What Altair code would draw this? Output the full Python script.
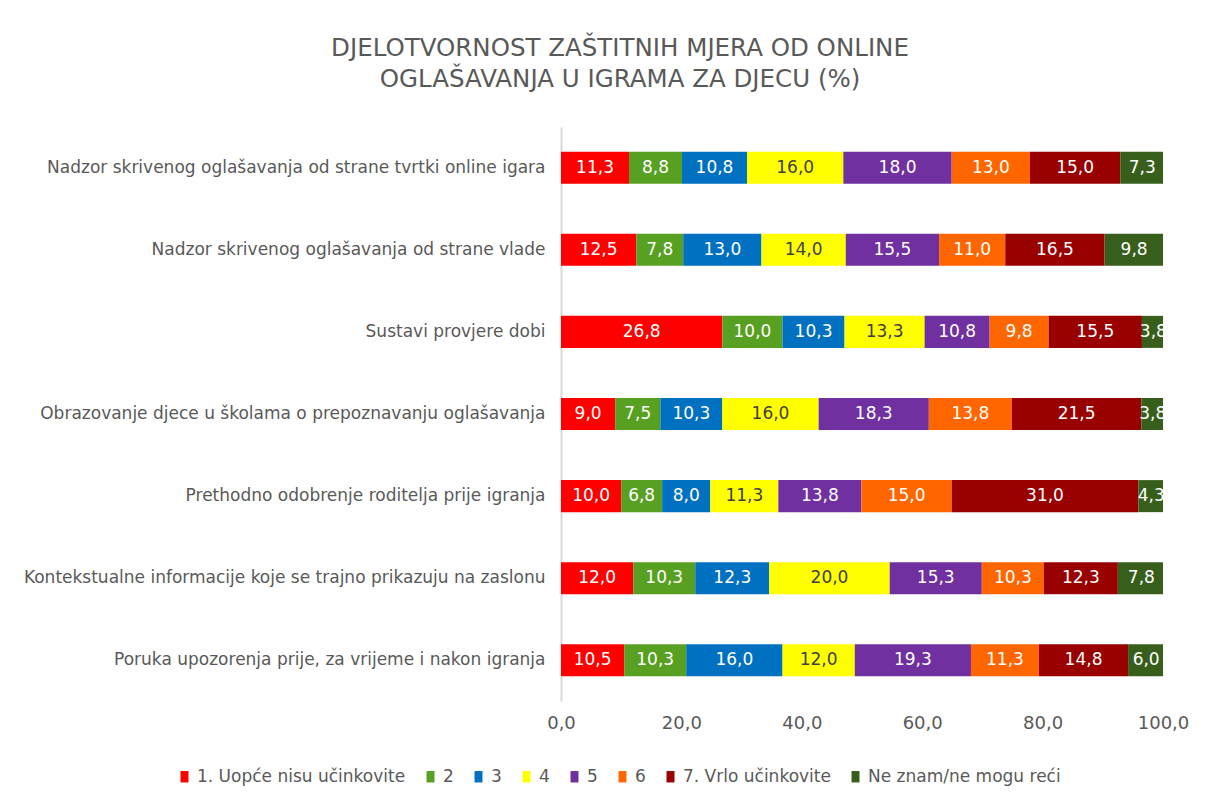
import altair as alt
import pandas as pd

categories = [
    "Nadzor skrivenog oglašavanja od strane tvrtki online igara",
    "Nadzor skrivenog oglašavanja od strane vlade",
    "Sustavi provjere dobi",
    "Obrazovanje djece u školama o prepoznavanju oglašavanja",
    "Prethodno odobrenje roditelja prije igranja",
    "Kontekstualne informacije koje se trajno prikazuju na zaslonu",
    "Poruka upozorenja prije, za vrijeme i nakon igranja",
]
series = ["1. Uopće nisu učinkovite", "2", "3", "4", "5", "6",
          "7. Vrlo učinkovite", "Ne znam/ne mogu reći"]
colors = ["#FF0000", "#58A021", "#0070C0", "#FFFF00", "#7030A0",
          "#FF6600", "#990000", "#375F1B"]
text_colors = ["#FFFFFF", "#FFFFFF", "#FFFFFF", "#404040", "#FFFFFF",
               "#FFFFFF", "#FFFFFF", "#FFFFFF"]

s1 = [11.3, 12.5, 26.8, 9.0, 10.0, 12.0, 10.5]
s2 = [8.8, 7.8, 10.0, 7.5, 6.8, 10.3, 10.3]
s3 = [10.8, 13.0, 10.3, 10.3, 8.0, 12.3, 16.0]
s4 = [16.0, 14.0, 13.3, 16.0, 11.3, 20.0, 12.0]
s5 = [18.0, 15.5, 10.8, 18.3, 13.8, 15.3, 19.3]
s6 = [13.0, 11.0, 9.8, 13.8, 15.0, 10.3, 11.3]
s7 = [15.0, 16.5, 15.5, 21.5, 31.0, 12.3, 14.8]
s8 = [7.3, 9.8, 3.8, 3.8, 4.3, 7.8, 6.0]
all_series = [s1, s2, s3, s4, s5, s6, s7, s8]

rows = []
for si, (name, vals) in enumerate(zip(series, all_series)):
    for ci, cat in enumerate(categories):
        rows.append({"cat": cat, "series": name, "order": si,
                     "value": vals[ci], "tcolor": text_colors[si]})
df = pd.DataFrame(rows)

FONT = "DejaVu Sans"

base = alt.Chart(df).transform_stack(
    stack="value", groupby=["cat"], as_=["x0", "x1"],
    sort=[alt.SortField("order", order="ascending")]
).transform_calculate(
    mid="(datum.x0 + datum.x1) / 2",
    label="replace(format(datum.value, '.1f'), '.', ',')"
)

y_enc = alt.Y("cat:N", sort=categories, title=None,
              scale=alt.Scale(paddingInner=0.61, paddingOuter=0.3),
              axis=alt.Axis(labelFont=FONT, labelFontSize=17, labelColor="#595959",
                            labelPadding=16, ticks=False, domainColor="#D9D9D9",
                            domainWidth=2, labelLimit=600,
                            minExtent=553, maxExtent=553))

bars = base.mark_bar().encode(
    x=alt.X("x0:Q", title=None,
            scale=alt.Scale(domain=[0, 100], clamp=True),
            axis=alt.Axis(values=[0, 20, 40, 60, 80, 100], grid=False, domain=False,
                          ticks=False, labelFont=FONT, labelFontSize=18,
                          labelColor="#595959", labelPadding=13, labelFlush=False,
                          labelExpr="replace(format(datum.value, '.1f'), '.', ',')")),
    x2="x1:Q",
    y=y_enc,
    color=alt.Color("series:N", sort=series,
                    scale=alt.Scale(domain=series, range=colors),
                    legend=alt.Legend(title=None, orient="none", direction="horizontal",
                                      legendX=-385, legendY=641,
                                      symbolType="M-0.7,-1H0.7V1H-0.7Z",
                                      symbolSize=130, symbolStrokeWidth=0,
                                      labelFont=FONT, labelFontSize=17,
                                      labelOffset=4,
                                      labelColor="#595959", columnPadding=16,
                                      labelLimit=300)),
)

texts = base.mark_text(font=FONT, fontSize=17).encode(
    x=alt.X("mid:Q"),
    y=alt.Y("cat:N", sort=categories),
    text="label:N",
    color=alt.Color("tcolor:N", scale=None),
)

chart = alt.layer(bars, texts).properties(
    width=602, height=574,
    title=alt.TitleParams(
        ["DJELOTVORNOST ZAŠTITNIH MJERA OD ONLINE",
         "OGLAŠAVANJA U IGRAMA ZA DJECU (%)"],
        font=FONT, fontSize=24.5, fontWeight="normal", color="#595959",
        anchor="middle", frame="group", dx=-242, lineHeight=31, offset=35),
    padding={"left": 0, "top": 27, "right": 5, "bottom": 5},
).configure_view(stroke=None)

chart.save("out.html", embed_options={"renderer": "svg", "actions": False})
